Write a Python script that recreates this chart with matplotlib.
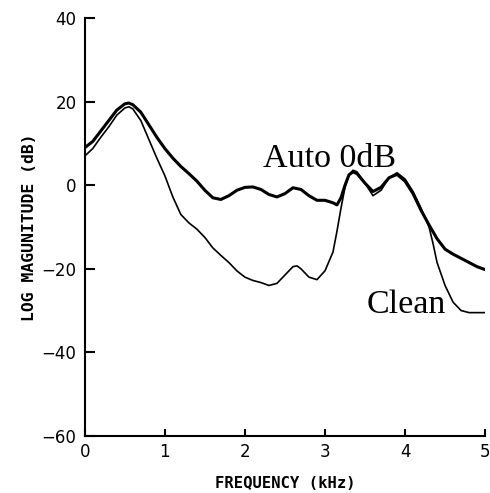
import matplotlib
matplotlib.use("Agg")
import matplotlib.pyplot as plt

# frequency (kHz) and log magnitude (dB)
freq_auto = [0.0, 0.1, 0.2, 0.3, 0.4, 0.5, 0.55, 0.6, 0.7, 0.8, 0.9, 1.0,
             1.1, 1.2, 1.3, 1.4, 1.5, 1.6, 1.7, 1.8, 1.9, 2.0, 2.1, 2.2,
             2.3, 2.4, 2.5, 2.6, 2.7, 2.8, 2.9, 3.0, 3.1, 3.15, 3.2, 3.25,
             3.3, 3.35, 3.4, 3.5, 3.6, 3.7, 3.8, 3.9, 4.0, 4.1, 4.2, 4.3,
             4.4, 4.5, 4.6, 4.7, 4.8, 4.9, 5.0]
mag_auto = [9.0, 10.5, 13.0, 15.5, 18.0, 19.5, 19.7, 19.3, 17.5, 14.5, 11.5, 8.8,
            6.5, 4.5, 2.8, 1.0, -1.2, -3.0, -3.4, -2.5, -1.2, -0.5, -0.4, -1.0,
            -2.2, -2.8, -2.0, -0.6, -1.0, -2.5, -3.6, -3.6, -4.2, -4.7, -3.0, 0.0,
            2.5, 3.2, 2.8, 0.5, -1.5, -0.5, 1.8, 2.6, 1.0, -2.0, -6.0, -9.5,
            -12.8, -15.3, -16.5, -17.5, -18.5, -19.5, -20.2]

freq_clean = [0.0, 0.1, 0.2, 0.3, 0.4, 0.5, 0.55, 0.6, 0.7, 0.8, 0.9, 1.0,
              1.1, 1.2, 1.3, 1.4, 1.5, 1.6, 1.7, 1.8, 1.9, 2.0, 2.1, 2.2,
              2.3, 2.4, 2.5, 2.6, 2.65, 2.7, 2.8, 2.9, 3.0, 3.1, 3.15, 3.2,
              3.25, 3.3, 3.35, 3.4, 3.5, 3.6, 3.7, 3.8, 3.9, 4.0, 4.1, 4.2,
              4.3, 4.35, 4.4, 4.5, 4.6, 4.7, 4.8, 4.9, 5.0]
mag_clean = [7.0, 8.8, 11.5, 14.0, 16.8, 18.5, 18.8, 18.3, 15.5, 11.0, 6.5, 2.3,
             -2.8, -7.0, -9.0, -10.5, -12.5, -15.0, -16.8, -18.5, -20.5, -22.0, -22.8, -23.3,
             -24.0, -23.5, -21.5, -19.5, -19.3, -20.0, -22.0, -22.6, -20.5, -16.0, -11.0, -5.5,
             -0.5, 2.5, 3.6, 3.2, 0.5, -2.5, -1.2, 1.8, 3.0, 1.5, -1.5, -5.5,
             -10.0, -14.0, -18.5, -24.0, -28.0, -30.0, -30.5, -30.5, -30.5]

x_ticks = [0, 1, 2, 3, 4, 5]
y_ticks = [-60, -40, -20, 0, 20, 40]

fig = plt.figure(figsize=(4.9, 4.93), dpi=100)
ax = fig.add_axes([0.173, 0.116, 0.817, 0.847])

ax.plot(freq_auto, mag_auto, color="black", linewidth=2.2,
        solid_joinstyle="round")
ax.plot(freq_clean, mag_clean, color="black", linewidth=1.2,
        solid_joinstyle="round")

ax.set_xlim(0, 5)
ax.set_ylim(-60, 40)
ax.set_xticks(x_ticks)
ax.set_yticks(y_ticks)
ax.set_xticklabels([str(t) for t in x_ticks])
ax.set_yticklabels([str(t).replace("-", "\u2212") for t in y_ticks])

for side in ["top", "right"]:
    ax.spines[side].set_visible(False)
for side in ["left", "bottom"]:
    ax.spines[side].set_linewidth(1.5)
ax.tick_params(axis="y", direction="in", length=7, width=1.5, labelsize=12, pad=6)
ax.tick_params(axis="x", direction="in", length=5, width=1.5, labelsize=12, pad=5)

ax.set_xlabel("FREQUENCY (kHz)", fontsize=11.2, labelpad=11,
              family="DejaVu Sans Mono", fontweight="bold")
ax.set_ylabel("LOG MAGUNITUDE (dB)", fontsize=11.8, labelpad=3,
              family="DejaVu Sans Mono", fontweight="bold")

ax.text(2.225, 4.3, "Auto 0dB", family="Liberation Serif", fontsize=24.5)
ax.text(3.525, -30.6, "Clean", family="Liberation Serif", fontsize=24.5)

fig.savefig("out.png", dpi=100)
